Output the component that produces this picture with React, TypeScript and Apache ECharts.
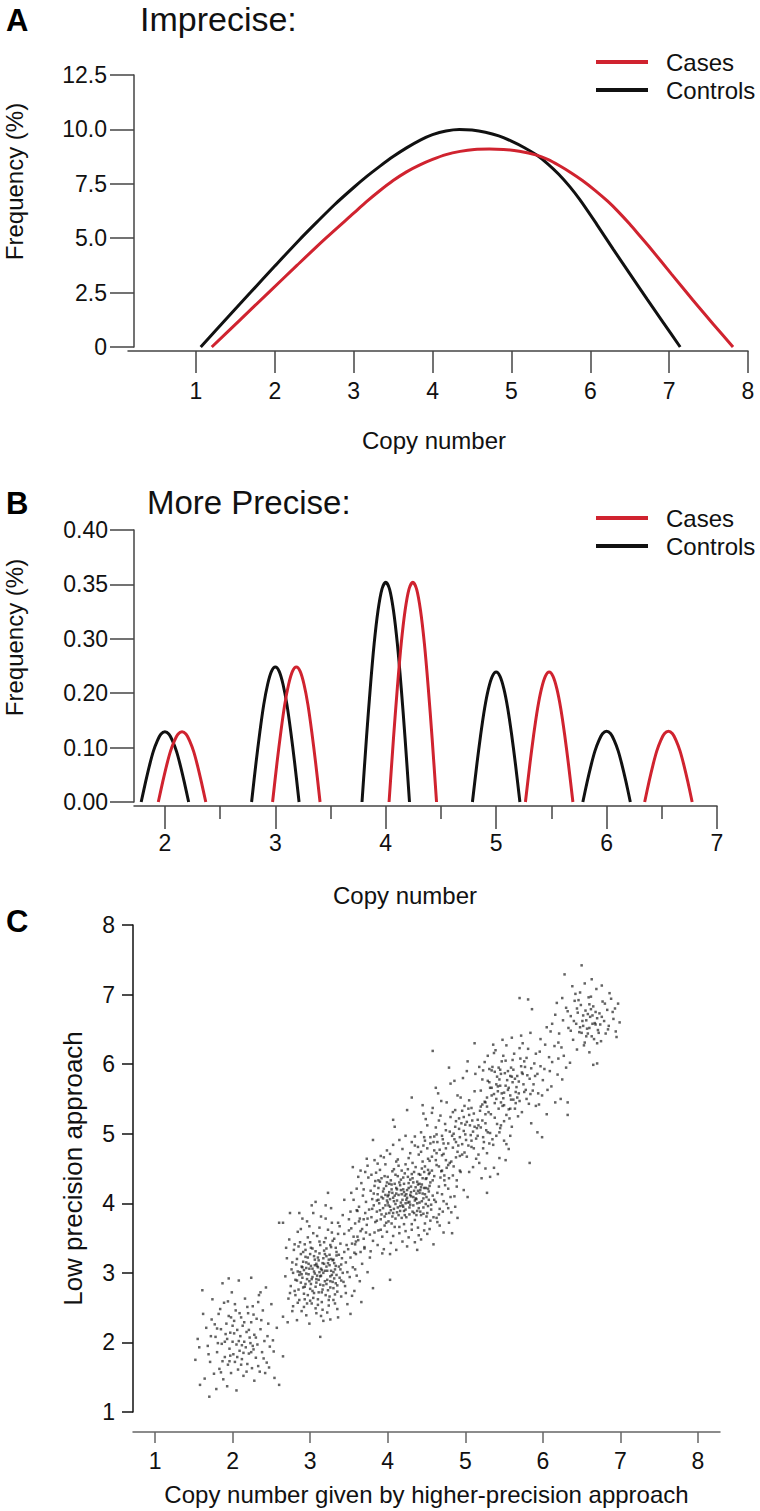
import React, { useEffect, useRef } from 'react';
import * as echarts from 'echarts';

const FONT = '"Liberation Sans", Arial, Helvetica, sans-serif';
const RED = '#d0232f';
const BLACK = '#111111';
const AXIS = '#444444';

// ---------- Panel A: imprecise ----------
const aXTicks = [1, 2, 3, 4, 5, 6, 7, 8];
const aYTicks = [0, 2.5, 5, 7.5, 10, 12.5];
const aYTickLabels = ['0', '2.5', '5.0', '7.5', '10.0', '12.5'];
const aControls = [
  [1.06, 0], [1.4, 1.36], [1.69, 2.5], [2.0, 3.72], [2.31, 4.92], [2.55, 5.8], [2.76, 6.55],
  [3.0, 7.33], [3.17, 7.85], [3.33, 8.3], [3.5, 8.75], [3.67, 9.15], [3.85, 9.52], [4.0, 9.76],
  [4.17, 9.93], [4.34, 10.0], [4.5, 9.97], [4.67, 9.87], [4.84, 9.7], [5.0, 9.46], [5.16, 9.17],
  [5.32, 8.82], [5.46, 8.42], [5.6, 7.94], [5.74, 7.37], [5.87, 6.76], [6.08, 5.65], [6.29, 4.5],
  [6.5, 3.37], [6.72, 2.2], [6.93, 1.1], [7.14, 0],
];
const aCases = [
  [1.2, 0], [1.56, 1.25], [1.92, 2.5], [2.28, 3.75], [2.64, 4.98], [3.0, 6.15], [3.17, 6.7],
  [3.33, 7.18], [3.5, 7.65], [3.67, 8.05], [3.84, 8.37], [4.0, 8.62], [4.17, 8.84], [4.35, 8.99],
  [4.53, 9.08], [4.72, 9.1], [4.9, 9.08], [5.1, 9.0], [5.32, 8.82], [5.46, 8.62], [5.6, 8.35],
  [5.75, 8.02], [5.9, 7.65], [6.06, 7.2], [6.22, 6.7], [6.36, 6.2], [6.5, 5.65], [6.63, 5.1],
  [6.76, 4.55], [7.03, 3.35], [7.3, 2.16], [7.56, 1.05], [7.81, 0],
];

// ---------- Panel B: more precise ----------
const bXTicks = [2, 3, 4, 5, 6, 7];
const bXMinorTicks = [2.5, 3.5, 4.5, 5.5, 6.5];
// the original axis prints these labels at equal spacing
const bYTicks = [0, 0.1, 0.2, 0.3, 0.35, 0.4];
const bYTickLabels = ['0.00', '0.10', '0.20', '0.30', '0.35', '0.40'];
const bYAxisPos = [0, 0.1, 0.2, 0.3, 0.4, 0.5];

const bControls2 = [[1.785, 0], [1.825, 0.037], [1.86, 0.067], [1.895, 0.093], [1.93, 0.112], [1.965, 0.125], [2.0, 0.129], [2.035, 0.125], [2.07, 0.112], [2.105, 0.093], [2.14, 0.067], [2.175, 0.037], [2.215, 0]];
const bControls3 = [[2.785, 0], [2.825, 0.072], [2.86, 0.129], [2.895, 0.179], [2.93, 0.216], [2.965, 0.24], [3.0, 0.248], [3.035, 0.24], [3.07, 0.216], [3.105, 0.179], [3.14, 0.129], [3.175, 0.072], [3.215, 0]];
const bControls4 = [[3.785, 0], [3.825, 0.117], [3.86, 0.21], [3.895, 0.291], [3.93, 0.326], [3.965, 0.3455], [4.0, 0.352], [4.035, 0.3455], [4.07, 0.326], [4.105, 0.291], [4.14, 0.21], [4.175, 0.117], [4.215, 0]];
const bControls5 = [[4.785, 0], [4.825, 0.069], [4.86, 0.124], [4.895, 0.172], [4.93, 0.208], [4.965, 0.231], [5.0, 0.239], [5.035, 0.231], [5.07, 0.208], [5.105, 0.172], [5.14, 0.124], [5.175, 0.069], [5.215, 0]];
const bControls6 = [[5.785, 0], [5.825, 0.038], [5.86, 0.068], [5.895, 0.094], [5.93, 0.113], [5.965, 0.126], [6.0, 0.13], [6.035, 0.126], [6.07, 0.113], [6.105, 0.094], [6.14, 0.068], [6.175, 0.038], [6.215, 0]];

const bCases2 = [[1.94, 0], [1.98, 0.037], [2.015, 0.067], [2.05, 0.093], [2.085, 0.112], [2.12, 0.125], [2.155, 0.129], [2.19, 0.125], [2.225, 0.112], [2.26, 0.093], [2.295, 0.067], [2.33, 0.037], [2.37, 0]];
const bCases3 = [[2.975, 0], [3.015, 0.072], [3.05, 0.129], [3.085, 0.179], [3.12, 0.216], [3.155, 0.24], [3.19, 0.248], [3.225, 0.24], [3.26, 0.216], [3.295, 0.179], [3.33, 0.129], [3.365, 0.072], [3.405, 0]];
const bCases4 = [[4.03, 0], [4.07, 0.117], [4.105, 0.21], [4.14, 0.291], [4.175, 0.326], [4.21, 0.3455], [4.245, 0.352], [4.28, 0.3455], [4.315, 0.326], [4.35, 0.291], [4.385, 0.21], [4.42, 0.117], [4.46, 0]];
const bCases5 = [[5.265, 0], [5.305, 0.069], [5.34, 0.124], [5.375, 0.172], [5.41, 0.208], [5.445, 0.231], [5.48, 0.239], [5.515, 0.231], [5.55, 0.208], [5.585, 0.172], [5.62, 0.124], [5.655, 0.069], [5.695, 0]];
const bCases6 = [[6.345, 0], [6.385, 0.038], [6.42, 0.068], [6.455, 0.094], [6.49, 0.113], [6.525, 0.126], [6.56, 0.13], [6.595, 0.126], [6.63, 0.113], [6.665, 0.094], [6.7, 0.068], [6.735, 0.038], [6.775, 0]];

const bControlBumps = [bControls2, bControls3, bControls4, bControls5, bControls6];
const bCaseBumps = [bCases2, bCases3, bCases4, bCases5, bCases6];

// ---------- Panel C: scatter ----------
const cTicks = [1, 2, 3, 4, 5, 6, 7, 8];

const cluster2 = [
  [1.61, 2.75], [1.52, 1.75], [1.58, 1.39], [1.70, 1.22], [2.60, 1.39], [2.65, 1.80], [2.52, 2.03],
  [1.55, 2.05], [1.57, 1.93], [1.66, 2.21], [1.68, 1.95], [1.71, 1.72], [1.73, 2.33], [1.76, 1.55], [1.78, 2.08],
  [1.80, 1.86], [1.82, 2.41], [1.83, 1.62], [1.85, 2.19], [1.86, 1.98], [1.88, 1.47], [1.89, 2.57], [1.90, 1.79],
  [1.92, 2.27], [1.93, 2.05], [1.94, 1.68], [1.95, 2.38], [1.96, 1.91], [1.97, 2.14], [1.98, 1.56], [1.99, 2.72],
  [2.00, 2.01], [2.01, 1.83], [2.02, 2.31], [2.03, 1.72], [2.04, 2.46], [2.05, 1.97], [2.06, 2.18], [2.07, 1.61],
  [2.08, 2.89], [2.09, 1.88], [2.10, 2.09], [2.11, 2.36], [2.12, 1.76], [2.13, 2.24], [2.14, 1.52], [2.15, 2.01],
  [2.16, 2.63], [2.17, 1.93], [2.18, 2.15], [2.19, 1.69], [2.20, 2.42], [2.21, 1.84], [2.22, 2.07], [2.23, 1.99],
  [2.24, 2.29], [2.25, 1.63], [2.26, 2.52], [2.27, 1.90], [2.28, 2.11], [2.30, 1.78], [2.31, 2.34], [2.32, 1.97],
  [2.34, 2.68], [2.35, 1.58], [2.36, 2.19], [2.38, 1.86], [2.39, 2.46], [2.41, 2.02], [2.43, 2.79], [2.44, 1.71],
  [2.46, 2.27], [2.48, 1.94], [2.50, 2.55], [2.54, 1.49], [2.57, 2.21], [1.74, 2.62], [1.87, 2.85], [1.95, 2.92],
  [2.24, 2.93], [1.64, 1.48], [1.79, 1.33], [1.93, 1.37], [2.05, 1.31], [2.28, 1.45], [2.42, 1.56],
  [1.77, 2.26], [1.81, 1.99], [1.84, 2.48], [1.87, 1.73], [1.91, 2.12], [1.94, 2.59], [1.97, 1.81], [2.00, 2.24],
  [2.03, 2.55], [2.06, 1.79], [2.09, 2.42], [2.12, 1.96], [2.15, 2.29], [2.18, 1.58], [2.21, 2.18], [2.24, 1.86],
  [2.27, 2.40], [2.30, 2.07], [2.33, 1.66], [2.37, 2.32], [2.40, 1.77], [2.45, 2.09], [1.69, 1.83], [1.72, 2.09],
  [1.85, 1.57], [1.98, 2.36], [2.11, 1.68], [2.19, 2.51], [2.33, 2.58], [2.47, 1.64], [1.62, 2.41], [2.53, 1.87],
  [1.90, 2.01], [2.08, 2.02], [2.14, 1.85], [2.02, 2.13], [1.96, 1.73], [2.26, 1.95], [1.80, 2.20], [2.36, 2.72],
];

const cluster3 = [
  [2.60, 3.72], [2.65, 3.72], [3.13, 2.08], [2.65, 2.37], [3.23, 4.15], [3.81, 2.78],
  [2.68, 2.95], [2.70, 3.21], [2.72, 2.63], [2.73, 3.48], [2.75, 2.81], [2.76, 3.05], [2.78, 2.52], [2.79, 3.33],
  [2.80, 2.74], [2.82, 3.12], [2.83, 2.89], [2.84, 3.59], [2.86, 2.61], [2.87, 3.01], [2.88, 3.27], [2.89, 2.45],
  [2.90, 2.93], [2.91, 3.16], [2.92, 2.70], [2.93, 3.41], [2.94, 2.84], [2.95, 3.07], [2.96, 2.56], [2.97, 3.22],
  [2.98, 2.98], [2.99, 3.67], [3.00, 2.77], [3.01, 3.10], [3.02, 2.91], [3.03, 3.35], [3.04, 2.64], [3.05, 3.02],
  [3.06, 3.19], [3.07, 2.49], [3.08, 2.86], [3.09, 3.53], [3.10, 3.08], [3.11, 2.72], [3.12, 3.28], [3.13, 2.95],
  [3.14, 3.81], [3.15, 2.58], [3.16, 3.14], [3.17, 2.82], [3.18, 3.44], [3.19, 3.03], [3.20, 2.68], [3.21, 3.24],
  [3.22, 2.90], [3.23, 3.62], [3.24, 2.53], [3.25, 3.11], [3.26, 2.79], [3.27, 3.37], [3.28, 2.97], [3.29, 3.18],
  [3.30, 2.61], [3.31, 3.49], [3.32, 3.05], [3.33, 2.85], [3.34, 3.30], [3.35, 2.73], [3.36, 3.72], [3.37, 3.09],
  [3.38, 2.93], [3.39, 3.42], [3.40, 2.66], [3.41, 3.21], [3.42, 3.00], [3.44, 3.56], [3.45, 2.81], [3.46, 3.15],
  [3.48, 2.55], [3.49, 3.34], [3.51, 2.94], [3.53, 3.64], [3.55, 3.08], [3.57, 2.74], [3.59, 3.27], [3.62, 3.47],
  [3.64, 2.88], [3.67, 3.13],
  [2.77, 3.15], [2.81, 2.68], [2.85, 3.38], [2.88, 2.86], [2.92, 3.04], [2.95, 2.39], [2.97, 3.51], [3.00, 3.27],
  [3.02, 2.56], [3.04, 3.86], [3.06, 2.99], [3.08, 3.13], [3.10, 2.62], [3.12, 3.45], [3.14, 3.06], [3.16, 2.76],
  [3.18, 3.32], [3.20, 3.97], [3.22, 2.43], [3.24, 3.19], [3.26, 2.88], [3.28, 3.58], [3.30, 3.01], [3.32, 2.69],
  [3.34, 3.25], [3.36, 2.36], [3.38, 3.67], [3.40, 3.12], [3.43, 2.87], [3.47, 3.40], [3.50, 3.77], [3.54, 2.67],
  [3.58, 3.05], [3.61, 3.89], [3.66, 2.58], [3.70, 3.35], [3.74, 3.01], [2.71, 2.29], [2.74, 3.86], [2.83, 2.32],
  [2.90, 3.78], [2.99, 2.27], [3.07, 4.02], [3.17, 2.31], [3.27, 3.93], [3.35, 2.48], [3.44, 4.05], [3.52, 2.41],
  [3.63, 3.74], [3.72, 3.58], [3.77, 3.22],
  [2.86, 2.97], [2.89, 3.09], [2.91, 2.79], [2.94, 3.23], [2.96, 2.91], [2.98, 3.13], [3.01, 2.84], [3.03, 3.06],
  [3.05, 2.71], [3.07, 3.31], [3.09, 2.96], [3.11, 3.18], [3.13, 2.83], [3.15, 3.04], [3.17, 3.21], [3.19, 2.88],
  [3.21, 3.09], [3.23, 2.75], [3.25, 3.26], [3.27, 3.03], [3.29, 2.87], [3.31, 3.14], [3.33, 3.36], [2.93, 2.62],
  [3.00, 3.44], [3.10, 2.54], [3.20, 3.50], [3.30, 2.78], [2.84, 3.02], [3.26, 3.40],
  [2.81, 2.90], [2.83, 3.20], [2.85, 2.76], [2.87, 3.44], [2.89, 2.98], [2.91, 3.30], [2.93, 2.80], [2.95, 3.15],
  [2.97, 2.68], [2.99, 3.06], [3.01, 3.36], [3.03, 2.94], [3.05, 3.24], [3.07, 2.80], [3.09, 3.10], [3.11, 2.90],
  [3.13, 3.40], [3.15, 2.72], [3.17, 3.00], [3.19, 3.27], [3.21, 2.84], [3.23, 3.14], [3.25, 2.66], [3.27, 3.20],
  [3.29, 3.46], [3.31, 2.92], [3.33, 3.10], [3.35, 2.82], [3.37, 3.26], [3.39, 3.05], [2.78, 3.00], [2.80, 3.41],
  [2.84, 2.57], [2.88, 3.63], [2.92, 2.51], [2.96, 3.74], [3.00, 2.60], [3.04, 3.57], [3.08, 2.42], [3.12, 3.65],
  [3.16, 2.47], [3.20, 3.78], [3.24, 2.61], [3.28, 3.72], [3.32, 2.56], [3.36, 3.56], [3.40, 2.89], [3.44, 3.30],
  [3.48, 3.01], [3.52, 3.22], [3.56, 3.52], [3.60, 2.96], [3.65, 3.30], [3.69, 3.77], [2.74, 2.71], [2.69, 3.36],
  [2.77, 2.45], [2.86, 3.86], [3.02, 3.97], [3.14, 2.38], [3.26, 2.33], [3.42, 3.83], [3.58, 3.41], [3.46, 2.71],
  [2.95, 2.99], [3.06, 3.11], [3.14, 2.96], [3.22, 3.03], [2.99, 2.88], [3.10, 3.22], [3.18, 3.13], [3.26, 2.95],
  [2.90, 3.08], [3.03, 2.74], [3.12, 3.01], [3.21, 3.35], [3.30, 3.19], [2.94, 3.33], [3.34, 2.97], [3.08, 2.91],
];

const cluster4 = [
  [4.03, 2.90], [3.55, 4.52], [3.62, 4.38], [3.71, 4.45], [3.81, 4.91], [3.88, 4.33],
  [3.50, 3.61], [3.52, 3.88], [3.54, 3.42], [3.56, 4.05], [3.58, 3.71], [3.60, 4.21], [3.61, 3.52], [3.63, 3.95],
  [3.64, 3.78], [3.66, 4.29], [3.67, 3.63], [3.68, 4.11], [3.70, 3.37], [3.71, 3.86], [3.72, 4.02], [3.73, 3.69],
  [3.75, 4.37], [3.76, 3.91], [3.77, 3.55], [3.78, 4.18], [3.79, 3.80], [3.80, 4.06], [3.81, 3.46], [3.82, 3.97],
  [3.83, 4.25], [3.84, 3.73], [3.85, 4.44], [3.86, 3.88], [3.87, 4.13], [3.88, 3.61], [3.89, 4.00], [3.90, 4.31],
  [3.91, 3.77], [3.92, 4.09], [3.93, 3.52], [3.94, 3.93], [3.95, 4.21], [3.96, 3.68], [3.97, 4.56], [3.98, 3.85],
  [3.99, 4.04], [4.00, 4.38], [4.01, 3.74], [4.02, 4.16], [4.03, 3.95], [4.04, 3.43], [4.05, 4.27], [4.06, 3.81],
  [4.07, 4.08], [4.08, 4.49], [4.09, 3.66], [4.10, 3.99], [4.11, 4.22], [4.12, 3.87], [4.13, 4.63], [4.14, 4.12],
  [4.15, 3.57], [4.16, 3.96], [4.17, 4.34], [4.18, 3.79], [4.19, 4.05], [4.20, 4.20], [4.21, 3.70], [4.22, 4.43],
  [4.23, 3.91], [4.24, 4.13], [4.25, 3.38], [4.26, 4.01], [4.27, 4.29], [4.28, 3.84], [4.29, 4.72], [4.30, 4.10],
  [4.31, 3.62], [4.32, 4.36], [4.33, 3.97], [4.34, 4.18], [4.35, 3.76], [4.36, 4.52], [4.37, 4.06], [4.38, 3.89],
  [4.39, 4.27], [4.40, 3.54], [4.41, 4.15], [4.42, 4.41], [4.43, 3.83], [4.44, 4.03], [4.45, 4.60], [4.46, 3.94],
  [4.47, 4.22], [4.48, 3.71], [4.49, 4.35], [4.50, 4.09], [4.51, 3.86], [4.52, 4.48], [4.53, 4.17], [4.54, 3.63],
  [4.55, 4.30], [4.56, 3.98], [4.57, 4.67], [4.58, 4.11], [4.59, 3.80], [4.60, 4.39], [4.62, 4.02], [4.63, 4.55],
  [4.64, 3.73], [4.66, 4.24], [4.67, 3.92], [4.69, 4.46], [4.70, 4.13], [4.72, 3.58], [4.73, 4.33], [4.75, 4.79],
  [4.76, 3.99], [4.78, 4.21], [4.80, 4.58], [4.82, 3.87], [4.84, 4.40], [4.86, 4.10], [4.88, 4.66], [4.90, 3.79],
  [3.57, 3.29], [3.65, 4.47], [3.69, 3.49], [3.74, 4.54], [3.78, 3.31], [3.83, 4.62], [3.87, 3.40], [3.91, 4.68],
  [3.95, 3.34], [3.99, 4.76], [4.03, 3.27], [4.07, 4.84], [4.11, 3.33], [4.15, 4.91], [4.19, 3.45], [4.23, 4.97],
  [4.27, 3.51], [4.31, 4.88], [4.35, 3.44], [4.39, 4.81], [4.43, 3.48], [4.47, 4.95], [4.51, 3.56], [4.55, 4.86],
  [4.59, 3.41], [4.63, 4.99], [4.67, 3.68], [4.71, 4.92], [4.79, 3.72], [4.83, 4.97], [4.87, 3.95], [4.38, 3.33],
  [4.83, 3.57],
  [3.86, 4.04], [3.88, 4.22], [3.90, 3.90], [3.92, 4.36], [3.94, 4.07], [3.96, 3.81], [3.98, 4.25], [4.00, 4.01],
  [4.02, 3.86], [4.04, 4.33], [4.06, 4.15], [4.08, 3.92], [4.10, 4.41], [4.12, 4.04], [4.14, 3.83], [4.16, 4.26],
  [4.18, 4.47], [4.20, 3.95], [4.22, 4.11], [4.24, 3.80], [4.26, 4.38], [4.28, 4.02], [4.30, 4.24], [4.32, 3.88],
  [4.34, 4.45], [4.36, 4.07], [4.38, 4.31], [4.40, 3.93], [4.42, 4.19], [4.44, 4.50], [4.46, 3.85], [4.48, 4.13],
  [4.50, 4.36], [4.52, 3.96], [4.54, 4.25], [4.01, 4.12], [4.09, 4.28], [4.17, 4.01], [4.25, 4.19], [4.33, 4.09],
  [4.41, 4.28], [4.49, 3.99], [3.97, 3.97], [4.13, 4.39], [4.21, 3.89], [4.29, 4.34], [4.37, 3.83], [4.45, 4.14],
  [4.05, 3.71], [4.23, 4.56],
  [3.80, 3.92], [3.82, 4.14], [3.84, 4.32], [3.86, 3.75], [3.88, 4.05], [3.90, 4.48], [3.92, 3.84], [3.94, 4.17],
  [3.96, 4.39], [3.98, 3.72], [4.00, 4.10], [4.02, 4.28], [4.04, 3.90], [4.06, 4.46], [4.08, 4.03], [4.10, 3.78],
  [4.12, 4.20], [4.14, 4.54], [4.16, 3.89], [4.18, 4.13], [4.20, 4.37], [4.22, 3.83], [4.24, 4.05], [4.26, 4.49],
  [4.28, 3.94], [4.30, 4.16], [4.32, 4.58], [4.34, 3.86], [4.36, 4.23], [4.38, 4.00], [4.40, 4.42], [4.42, 3.88],
  [4.44, 4.27], [4.46, 4.07], [4.48, 4.53], [4.50, 3.81], [4.52, 4.21], [4.54, 4.44], [4.56, 3.91], [4.58, 4.33],
  [4.60, 4.05], [4.62, 4.62], [4.64, 4.15], [4.66, 3.84], [4.68, 4.37], [4.70, 4.69], [4.72, 4.03], [4.74, 4.26],
  [4.76, 4.51], [4.78, 3.93],
  [3.79, 4.41], [3.83, 3.58], [3.87, 4.57], [3.91, 3.62], [3.95, 4.66], [3.99, 3.59], [4.03, 4.71], [4.07, 3.53],
  [4.11, 4.60], [4.15, 3.66], [4.19, 4.78], [4.23, 3.60], [4.27, 4.65], [4.31, 3.70], [4.35, 4.83], [4.39, 3.65],
  [4.43, 4.74], [4.47, 3.61], [4.51, 4.79], [4.55, 3.75], [4.59, 4.88], [4.63, 3.79], [4.67, 4.77], [4.71, 3.88],
  [4.75, 4.62], [4.79, 4.36], [4.81, 4.09], [4.85, 4.53], [4.89, 4.24], [4.93, 4.47], [4.96, 4.70], [4.98, 4.19],
  [3.74, 3.78], [3.69, 4.20], [3.65, 3.60], [3.60, 3.90], [3.53, 4.15], [3.59, 3.45], [3.73, 4.64], [3.93, 3.28],
  [3.97, 4.12], [4.01, 3.97], [4.05, 4.20], [4.09, 4.11], [4.13, 3.94], [4.17, 4.19], [4.21, 4.28], [4.25, 4.08],
  [4.29, 3.98], [4.33, 4.30], [4.37, 4.14], [4.41, 4.01], [4.45, 4.36], [4.49, 4.22], [4.53, 4.05], [3.99, 4.30],
  [4.07, 3.86], [4.15, 4.30], [4.23, 4.00], [4.31, 4.42], [4.39, 4.18], [4.47, 4.45], [4.03, 4.06], [4.19, 3.97],
  [4.27, 4.22], [4.35, 4.04], [4.43, 4.23], [4.11, 4.14], [4.21, 4.16], [4.29, 4.12],
];

const cluster5 = [
  [5.28, 4.15], [5.03, 4.09], [4.25, 5.34], [4.07, 5.20], [4.09, 5.10], [5.32, 4.38], [5.83, 4.58], [5.99, 4.95],
  [4.40, 4.70], [4.43, 5.02], [4.46, 4.83], [4.49, 5.21], [4.52, 4.64], [4.55, 4.95], [4.58, 5.37], [4.60, 4.76],
  [4.62, 5.09], [4.64, 4.88], [4.66, 4.53], [4.68, 5.26], [4.70, 4.97], [4.72, 4.71], [4.74, 5.14], [4.76, 5.45],
  [4.78, 4.86], [4.80, 5.03], [4.82, 4.60], [4.84, 5.31], [4.86, 4.92], [4.88, 5.18], [4.90, 4.74], [4.92, 5.07],
  [4.94, 5.52], [4.96, 4.85], [4.98, 5.24], [5.00, 4.99], [5.02, 4.67], [5.04, 5.36], [5.06, 5.12], [5.08, 4.81],
  [5.10, 5.03], [5.12, 5.61], [5.14, 4.93], [5.16, 5.20], [5.18, 4.58], [5.20, 5.09], [5.22, 5.42], [5.24, 4.88],
  [5.26, 5.15], [5.28, 4.72], [5.30, 5.31], [5.32, 5.01], [5.34, 5.55], [5.36, 4.84], [5.38, 5.23], [5.40, 4.97],
  [5.42, 5.68], [5.44, 4.65], [5.46, 5.12], [5.48, 5.40], [5.50, 4.90], [5.53, 5.27], [5.56, 4.78], [5.59, 5.49],
  [4.35, 4.96], [4.45, 5.41], [4.57, 4.47], [4.65, 5.58], [4.73, 4.40], [4.81, 5.72], [4.89, 4.33], [4.97, 5.80],
  [5.05, 4.45], [5.13, 5.86], [5.21, 4.36], [5.29, 5.76], [5.37, 4.51], [5.45, 5.92], [5.52, 4.62], [5.58, 5.83],
  [4.58, 6.19], [4.79, 5.95], [4.31, 5.52],
  [4.85, 5.00], [4.91, 4.83], [4.95, 5.15], [5.01, 4.91], [5.05, 5.27], [5.07, 4.98], [5.11, 4.79], [5.15, 5.08],
  [5.19, 5.33], [5.23, 4.95], [5.27, 5.05], [4.93, 4.68], [4.99, 5.40], [5.09, 5.19], [5.17, 4.70], [5.25, 5.46],
  [4.87, 5.34], [5.31, 4.86],
  [4.48, 4.90], [4.51, 5.12], [4.54, 4.61], [4.57, 5.30], [4.60, 4.96], [4.63, 4.72], [4.66, 5.19], [4.69, 5.47],
  [4.72, 4.86], [4.75, 5.05], [4.78, 4.55], [4.81, 5.24], [4.84, 4.80], [4.87, 5.10], [4.90, 5.55], [4.93, 4.95],
  [4.96, 5.33], [4.99, 4.73], [5.02, 5.17], [5.05, 5.48], [5.08, 4.90], [5.11, 5.29], [5.14, 4.64], [5.17, 5.12],
  [5.20, 5.39], [5.23, 4.79], [5.26, 5.28], [5.29, 5.02], [5.32, 5.66], [5.35, 4.92], [5.38, 5.44], [5.41, 5.14],
  [5.44, 5.02], [5.47, 5.58], [5.50, 5.18], [5.53, 4.85], [5.56, 5.35], [5.60, 5.10], [4.62, 5.66], [4.70, 4.47],
  [4.86, 5.76], [4.94, 4.45], [5.02, 5.90], [5.10, 4.52], [5.18, 5.96], [5.26, 4.50], [5.34, 5.91], [5.42, 4.42],
  [4.46, 5.29], [4.53, 4.42], [4.98, 5.04], [5.04, 4.83], [5.12, 5.10], [5.16, 4.97], [5.22, 5.19], [4.92, 5.22],
  [4.88, 4.88], [5.00, 5.13], [5.08, 5.37], [5.28, 5.39],
];

const cluster6 = [
  [5.12, 6.30], [5.74, 6.30], [5.03, 6.04], [6.05, 6.53], [6.32, 5.45], [6.32, 5.27], [5.70, 6.95], [5.81, 6.93],
  [5.86, 6.79],
  [5.20, 5.62], [5.23, 5.91], [5.26, 5.45], [5.29, 6.12], [5.31, 5.74], [5.33, 5.28], [5.35, 5.96], [5.37, 5.57],
  [5.39, 6.20], [5.41, 5.82], [5.43, 5.36], [5.45, 5.69], [5.47, 6.04], [5.49, 5.51], [5.51, 5.87], [5.53, 6.27],
  [5.55, 5.63], [5.57, 5.22], [5.59, 5.95], [5.61, 5.74], [5.63, 6.15], [5.65, 5.44], [5.67, 5.83], [5.69, 5.58],
  [5.71, 6.08], [5.73, 5.31], [5.75, 5.71], [5.77, 5.96], [5.79, 5.50], [5.81, 6.22], [5.83, 5.79], [5.85, 5.15],
  [5.87, 5.62], [5.89, 6.01], [5.91, 5.40], [5.93, 5.86], [5.96, 6.18], [5.99, 5.55], [6.02, 5.93], [6.05, 5.28],
  [6.08, 6.10], [6.11, 5.68], [6.15, 6.26], [6.19, 5.85], [6.23, 5.50], [6.27, 6.12],
  [5.36, 6.28], [5.48, 6.35], [5.60, 6.38], [5.72, 6.41], [5.84, 6.45], [5.97, 6.36], [6.10, 6.47], [6.20, 6.31],
  [5.93, 5.02], [5.58, 4.97], [5.45, 5.08],
  [5.42, 5.61], [5.46, 5.86], [5.50, 5.41], [5.54, 5.77], [5.58, 5.55], [5.62, 5.92], [5.66, 5.67], [5.70, 5.47],
  [5.74, 5.86], [5.78, 5.63], [5.52, 6.05], [5.64, 5.36], [5.40, 5.50], [5.76, 6.04], [5.68, 5.25],
  [5.22, 5.78], [5.25, 6.03], [5.28, 5.52], [5.31, 5.93], [5.34, 5.66], [5.37, 6.16], [5.40, 5.71], [5.43, 5.95],
  [5.46, 5.45], [5.49, 6.12], [5.52, 5.69], [5.55, 5.90], [5.58, 5.36], [5.61, 6.06], [5.64, 5.79], [5.67, 5.52],
  [5.70, 6.23], [5.73, 5.88], [5.76, 5.60], [5.79, 6.09], [5.82, 5.43], [5.85, 5.94], [5.88, 5.71], [5.91, 6.15],
  [5.94, 5.58], [5.97, 5.97], [6.00, 5.77], [6.03, 6.28], [6.06, 5.63], [6.09, 5.90], [6.12, 6.03], [6.16, 5.45],
  [6.20, 6.08], [6.25, 5.78], [6.30, 5.95], [5.56, 5.66], [5.60, 5.82], [5.65, 5.60], [5.69, 5.75], [5.72, 5.97],
  [5.44, 5.78], [5.50, 5.59], [5.80, 5.84], [5.84, 5.57], [5.62, 5.49], [5.38, 5.89], [5.90, 5.83], [5.95, 5.42],
];

const cluster7 = [
  [6.50, 7.42], [6.28, 7.29], [6.63, 7.22], [6.48, 7.03], [6.86, 7.02], [6.93, 6.80], [6.95, 6.39], [6.70, 6.30],
  [6.65, 5.99], [6.70, 6.01], [6.18, 6.88], [6.25, 6.95],
  [6.12, 6.58], [6.16, 6.71], [6.21, 6.44], [6.26, 6.63], [6.30, 6.81], [6.33, 6.52], [6.36, 6.69], [6.39, 6.35],
  [6.41, 6.91], [6.43, 6.58], [6.45, 6.74], [6.47, 6.46], [6.49, 6.85], [6.51, 6.62], [6.53, 6.27], [6.55, 6.77],
  [6.57, 6.51], [6.59, 6.96], [6.61, 6.68], [6.63, 6.40], [6.65, 6.83], [6.67, 6.59], [6.69, 7.08], [6.71, 6.49],
  [6.73, 6.73], [6.75, 6.33], [6.77, 6.90], [6.79, 6.62], [6.81, 6.44], [6.83, 6.78], [6.85, 6.55], [6.88, 6.94],
  [6.91, 6.65], [6.94, 6.47], [6.97, 6.87], [6.99, 6.60],
  [6.38, 7.12], [6.54, 7.16], [6.44, 6.21], [6.60, 6.17], [6.76, 7.13], [6.24, 6.24], [6.35, 6.02],
  [6.52, 6.55], [6.56, 6.63], [6.60, 6.52], [6.64, 6.70], [6.68, 6.57], [6.58, 6.44], [6.62, 6.79],
  [6.40, 6.62], [6.44, 6.80], [6.48, 6.53], [6.52, 6.70], [6.56, 6.40], [6.60, 6.86], [6.64, 6.58], [6.68, 6.75],
  [6.72, 6.45], [6.76, 6.68], [6.80, 6.87], [6.84, 6.50], [6.62, 6.97], [6.54, 6.31], [6.70, 6.66], [6.46, 6.92],
  [6.66, 6.36], [6.58, 6.72], [6.50, 6.45], [6.74, 6.57], [6.36, 6.48], [6.90, 6.75], [6.32, 6.76], [6.42, 7.01],
];

const scatterPoints = [...cluster2, ...cluster3, ...cluster4, ...cluster5, ...cluster6, ...cluster7];

// piecewise mapping of panel B label values onto the evenly spaced axis
function toAxisB(v: number): number {
  for (let i = 0; i < bYTicks.length - 1; i++) {
    if (v <= bYTicks[i + 1]) {
      const t = (v - bYTicks[i]) / (bYTicks[i + 1] - bYTicks[i]);
      return bYAxisPos[i] + t * (bYAxisPos[i + 1] - bYAxisPos[i]);
    }
  }
  return bYAxisPos[bYAxisPos.length - 1];
}

function lookup(values: number[], labels: string[], v: number): string {
  for (let i = 0; i < values.length; i++) {
    if (Math.abs(values[i] - v) < 1e-6) return labels[i];
  }
  return '';
}

const lineStyleA = { color: AXIS, width: 1.5 };
const labelBase = { color: '#111', fontFamily: FONT };

function buildOption(): any {
  const bSeries: any[] = [];
  bControlBumps.forEach((bump) => {
    bSeries.push({
      name: 'Controls', type: 'line', xAxisIndex: 1, yAxisIndex: 1, smooth: 0.3, symbol: 'none',
      lineStyle: { color: BLACK, width: 3 }, itemStyle: { color: BLACK },
      data: bump.map((p) => [p[0], toAxisB(p[1])]),
    });
  });
  bCaseBumps.forEach((bump) => {
    bSeries.push({
      name: 'Cases', type: 'line', xAxisIndex: 1, yAxisIndex: 1, smooth: 0.3, symbol: 'none',
      lineStyle: { color: RED, width: 3 }, itemStyle: { color: RED },
      data: bump.map((p) => [p[0], toAxisB(p[1])]),
    });
  });

  const legendCommon = {
    orient: 'vertical', left: 596, itemWidth: 52, itemHeight: 4, itemGap: 4, padding: 0,
    icon: 'rect', selectedMode: false, data: ['Cases', 'Controls'],
    textStyle: { fontSize: 24, lineHeight: 24, color: '#111', fontFamily: FONT, padding: [0, 0, 0, 13] },
  };

  return {
    animation: false,
    backgroundColor: '#ffffff',
    textStyle: { fontFamily: FONT },
    grid: [
      { left: 128, top: 75, width: 620, height: 272, outerBoundsMode: 'none' },
      { left: 134, top: 530, width: 583, height: 272, outerBoundsMode: 'none' },
      { left: 133, top: 925, width: 587, height: 487, outerBoundsMode: 'none' },
    ],
    legend: [
      { ...legendCommon, top: 50 },
      { ...legendCommon, top: 506 },
    ],
    xAxis: [
      {
        type: 'value', gridIndex: 0, min: 0.138, max: 8, offset: 4,
        axisLine: { show: true, onZero: false, lineStyle: lineStyleA },
        axisTick: { show: true, length: 22, customValues: aXTicks, lineStyle: lineStyleA },
        axisLabel: { ...labelBase, customValues: aXTicks, margin: 28, fontSize: 23 },
        splitLine: { show: false },
        name: 'Copy number', nameLocation: 'middle', nameGap: 77,
        nameTextStyle: { fontSize: 24, color: '#111', fontFamily: FONT, padding: [0, 8, 0, 0] },
      },
      {
        type: 'value', gridIndex: 1, min: 1.72, max: 7, offset: 4,
        axisLine: { show: true, onZero: false, lineStyle: lineStyleA },
        axisTick: { show: true, length: 23, customValues: bXTicks, lineStyle: lineStyleA },
        axisLabel: { ...labelBase, customValues: bXTicks, margin: 25, fontSize: 23 },
        splitLine: { show: false },
        name: 'Copy number', nameLocation: 'middle', nameGap: 77,
        nameTextStyle: { fontSize: 24, color: '#111', fontFamily: FONT, padding: [0, 41, 0, 0] },
      },
      {
        type: 'value', gridIndex: 1, min: 1.72, max: 7, offset: 4, position: 'bottom',
        axisLine: { show: false, onZero: false },
        axisTick: { show: true, length: 13, customValues: bXMinorTicks, lineStyle: lineStyleA },
        axisLabel: { show: false },
        splitLine: { show: false },
      },
      {
        type: 'value', gridIndex: 2, min: 0.716, max: 8.284, offset: 20,
        axisLine: { show: true, onZero: false, lineStyle: { color: '#666', width: 1.5 } },
        axisTick: { show: true, length: 11, customValues: cTicks, lineStyle: { color: '#666', width: 1.5 } },
        axisLabel: { ...labelBase, customValues: cTicks, margin: 17, fontSize: 23 },
        splitLine: { show: false },
        name: 'Copy number given by higher-precision approach', nameLocation: 'middle', nameGap: 50,
        nameTextStyle: { fontSize: 24, color: '#111', fontFamily: FONT },
      },
    ],
    yAxis: [
      {
        type: 'value', gridIndex: 0, min: 0, max: 12.5, interval: 2.5, offset: -6,
        axisLine: { show: true, onZero: false, lineStyle: lineStyleA },
        axisTick: { show: true, length: 24, lineStyle: lineStyleA },
        axisLabel: { ...labelBase, margin: 27, fontSize: 23, formatter: (v: number) => lookup(aYTicks, aYTickLabels, v) },
        splitLine: { show: false },
        name: 'Frequency (%)', nameLocation: 'middle', nameGap: 108,
        nameTextStyle: { fontSize: 24, color: '#111', fontFamily: FONT, padding: [0, 0, 0, 59] },
      },
      {
        type: 'value', gridIndex: 1, min: 0, max: 0.5, interval: 0.1,
        axisLine: { show: true, onZero: false, lineStyle: lineStyleA },
        axisTick: { show: true, length: 24, lineStyle: lineStyleA },
        axisLabel: { ...labelBase, margin: 26, fontSize: 23, formatter: (v: number) => lookup(bYAxisPos, bYTickLabels, v) },
        splitLine: { show: false },
        name: 'Frequency (%)', nameLocation: 'middle', nameGap: 108,
        nameTextStyle: { fontSize: 24, color: '#111', fontFamily: FONT, padding: [0, 0, 0, 57] },
      },
      {
        type: 'value', gridIndex: 2, min: 1, max: 8, interval: 1,
        axisLine: { show: true, onZero: false, lineStyle: { color: '#111', width: 1.5 } },
        axisTick: { show: true, length: 11, lineStyle: { color: '#111', width: 1.5 } },
        axisLabel: { ...labelBase, margin: 18, fontSize: 23 },
        splitLine: { show: false },
        name: 'Low precision approach', nameLocation: 'middle', nameGap: 47,
        nameTextStyle: { fontSize: 26, color: '#111', fontFamily: FONT },
      },
    ],
    graphic: [
      { type: 'text', x: 6, y: 20, style: { text: 'A', fill: '#000', fontSize: 31, fontWeight: 'bold', fontFamily: FONT, verticalAlign: 'middle', align: 'left' } },
      { type: 'text', x: 140, y: 18.5, style: { text: 'Imprecise:', fill: '#111', fontSize: 34, fontFamily: FONT, verticalAlign: 'middle', align: 'left' } },
      { type: 'text', x: 6, y: 503, style: { text: 'B', fill: '#000', fontSize: 31, fontWeight: 'bold', fontFamily: FONT, verticalAlign: 'middle', align: 'left' } },
      { type: 'text', x: 147, y: 502.5, style: { text: 'More Precise:', fill: '#111', fontSize: 33, fontFamily: FONT, verticalAlign: 'middle', align: 'left' } },
      { type: 'text', x: 6, y: 921, style: { text: 'C', fill: '#000', fontSize: 31, fontWeight: 'bold', fontFamily: FONT, verticalAlign: 'middle', align: 'left' } },
    ],
    series: [
      {
        name: 'Controls', type: 'line', xAxisIndex: 0, yAxisIndex: 0, smooth: 0.3, symbol: 'none',
        lineStyle: { color: BLACK, width: 3 }, itemStyle: { color: BLACK }, data: aControls,
      },
      {
        name: 'Cases', type: 'line', xAxisIndex: 0, yAxisIndex: 0, smooth: 0.3, symbol: 'none',
        lineStyle: { color: RED, width: 3 }, itemStyle: { color: RED }, data: aCases,
      },
      ...bSeries,
      {
        name: 'Samples', type: 'scatter', xAxisIndex: 3, yAxisIndex: 2, symbol: 'rect', symbolSize: 2.5,
        itemStyle: { color: 'rgba(25,25,25,0.85)' }, data: scatterPoints,
      },
    ],
  };
}

export default function App() {
  const ref = useRef<HTMLDivElement>(null);
  useEffect(() => {
    document.body.style.margin = '0';
    const chart = echarts.init(ref.current as HTMLDivElement, null, { renderer: 'svg' });
    chart.setOption(buildOption());
    return () => chart.dispose();
  }, []);
  return <div ref={ref} style={{ width: 760, height: 1511 }} />;
}
